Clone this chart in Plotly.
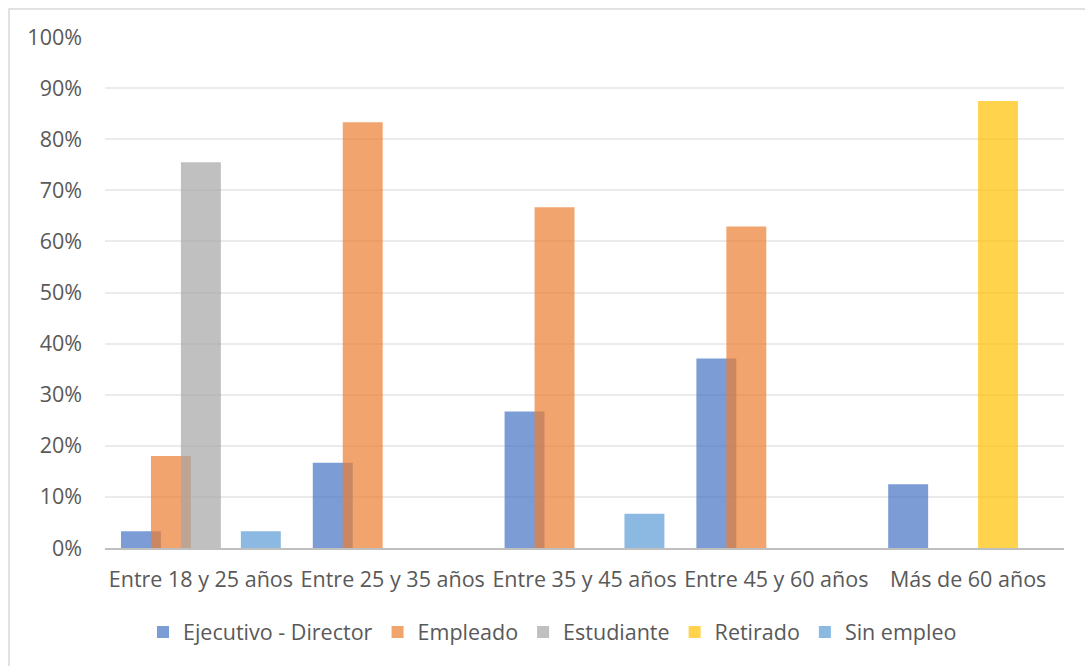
import plotly.graph_objects as go

categories = ["Entre 18 y 25 años", "Entre 25 y 35 años", "Entre 35 y 45 años",
              "Entre 45 y 60 años", "Más de 60 años"]
series_names = ["Ejecutivo - Director", "Empleado", "Estudiante", "Retirado", "Sin empleo"]
ejecutivo = [3.3, 16.7, 26.7, 37.1, 12.5]
empleado = [18.0, 83.3, 66.7, 62.9, 0.0]
estudiante = [75.5, 0.0, 0.0, 0.0, 0.0]
retirado = [0.0, 0.0, 0.0, 0.0, 87.5]
sin_empleo = [3.3, 0.0, 6.7, 0.0, 0.0]
y_ticks = [0, 10, 20, 30, 40, 50, 60, 70, 80, 90, 100]
y_tick_labels = ["0%", "10%", "20%", "30%", "40%", "50%", "60%", "70%", "80%", "90%", "100%"]

series_values = [ejecutivo, empleado, estudiante, retirado, sin_empleo]
colors = ["rgba(68,114,196,0.7)", "rgba(237,125,49,0.7)", "rgba(165,165,165,0.7)",
          "rgba(255,192,0,0.7)", "rgba(91,155,213,0.7)"]

W, H = 1085, 666
FONT = "Open Sans"
TXT = "#595959"
FS = 21.5

bar_w = 0.2083
step = 0.15625
first = -0.4167

fig = go.Figure()
for i, (name, vals, col) in enumerate(zip(series_names, series_values, colors)):
    fig.add_trace(go.Bar(
        name=name, x=categories, y=vals,
        width=bar_w, offset=first + i * step,
        marker=dict(color=col, line=dict(width=0)),
        hoverinfo="x+y+name",
    ))

x0, x1 = 105 / W, 1064 / W
y0, y1 = 1 - 548 / H, 1 - 37 / H

fig.update_layout(
    width=W, height=H,
    margin=dict(l=0, r=0, t=0, b=0, autoexpand=False),
    paper_bgcolor="white", plot_bgcolor="white",
    barmode="overlay",
    font=dict(family=FONT, size=FS, color=TXT),
    xaxis=dict(domain=[x0, x1], type="category", tickangle=0, automargin=False,
               showline=True, linecolor="#BFBFBF", linewidth=2,
               showgrid=False, ticks="", ticklabelstandoff=11,
               tickfont=dict(family=FONT, size=FS, color=TXT)),
    yaxis=dict(domain=[y0, y1], range=[0, 100], tickmode="array",
               tickvals=y_ticks, ticktext=y_tick_labels, automargin=False,
               showgrid=True, gridcolor="#EBEBEB", gridwidth=1.5,
               zeroline=False, showline=False, ticks="", ticklabelstandoff=22,
               tickfont=dict(family=FONT, size=FS, color=TXT)),
    legend=dict(orientation="h", x=0.5 + 10 / W, xanchor="center", y=1 - 632 / H, yanchor="middle",
                font=dict(family=FONT, size=FS, color=TXT), bgcolor="rgba(0,0,0,0)",
                traceorder="normal"),
    showlegend=True,
    shapes=[dict(type="rect", xref="paper", yref="paper",
                 x0=9 / W, x1=1.02, y0=-0.02, y1=1 - 9 / H,
                 line=dict(color="#D9D9D9", width=1.5), fillcolor="rgba(0,0,0,0)", layer="below")],
)

fig.write_html("out.html")
